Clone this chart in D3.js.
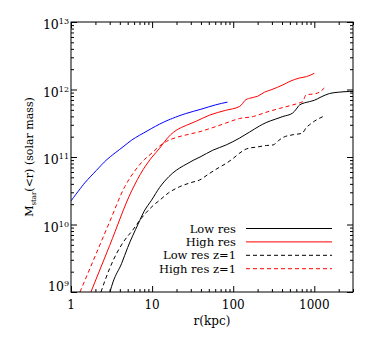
<!DOCTYPE html>
<html>
<head>
<meta charset="utf-8">
<script src="https://cdn.jsdelivr.net/npm/d3@7"></script>
<style>
  body { margin: 0; background: #fff; }
  text { font-family: 'DejaVu Serif', serif; font-size: 12px; fill: #000; }
</style>
</head>
<body>
<svg id="chart" width="374" height="337"></svg>
<script>
// Data: radius (kpc) and enclosed stellar mass (solar masses)
const blueR = [1, 1.3, 1.6, 2.2, 2.7, 3.5, 4.5, 5.6, 7, 8.9, 11, 14, 18, 26, 40, 60, 85];
const blueM = [2.24e10, 3.4e10, 4.6e10, 6.9e10, 8.9e10, 1.15e11, 1.45e11, 1.78e11, 2.1e11, 2.47e11, 2.85e11,
  3.3e11, 3.75e11, 4.4e11, 5.1e11, 5.9e11, 6.5e11];

const lowResR = [3.02, 3.3, 4.2, 5, 6.73, 8, 9.84, 12.4, 14.3, 18, 22, 27, 32, 39, 56, 82, 120, 159, 211, 255,
  330, 410, 540, 600, 656, 870, 1000, 1213, 1535, 2000, 2700, 3000];
const lowResM = [1.0e9, 1.41e9, 2.63e9, 4.57e9, 1.02e10, 1.58e10, 2.29e10, 3.55e10, 4.4e10, 5.8e10, 6.9e10,
  7.94e10, 8.91e10, 1.0e11, 1.26e11, 1.51e11, 1.91e11, 2.34e11, 2.88e11, 3.24e11, 3.63e11, 3.98e11, 4.47e11,
  5.13e11, 5.89e11, 6.61e11, 6.92e11, 7.76e11, 8.71e11, 9.12e11, 9.33e11, 9.33e11];

const highResR = [1.76, 3, 5.6, 7.75, 10, 12.4, 14.3, 17, 20, 26.5, 35, 51, 80, 120, 130, 140, 159, 200, 243,
  300, 410, 500, 656, 800, 1000];
const highResM = [1.0e9, 4.9e9, 3.16e10, 6.5e10, 1.0e11, 1.35e11, 1.7e11, 2.15e11, 2.5e11, 2.95e11, 3.39e11,
  4.17e11, 4.9e11, 5.62e11, 6.17e11, 6.92e11, 7.41e11, 7.94e11, 9.12e11, 1.0e12, 1.17e12, 1.32e12, 1.48e12,
  1.55e12, 1.74e12];

const lowResZ1R = [2.34, 3, 3.65, 4.6, 5.8, 7.1, 8.5, 10.3, 12.4, 16, 21.9, 30, 38.6, 50, 68, 83, 100, 121, 146,
  200, 258, 311, 360, 413, 550, 694, 720, 800, 879, 1000, 1283, 1331];
const lowResZ1M = [1.0e9, 2.24e9, 3.72e9, 5.89e9, 8.32e9, 1.17e10, 1.51e10, 1.91e10, 2.29e10, 2.95e10, 3.63e10,
  4.17e10, 4.57e10, 5.62e10, 7.08e10, 8.13e10, 9.55e10, 1.15e11, 1.32e11, 1.41e11, 1.48e11, 1.51e11, 1.74e11,
  1.95e11, 2.14e11, 2.24e11, 2.29e11, 2.75e11, 3.02e11, 3.39e11, 3.98e11, 4.07e11];

const highResZ1R = [1.29, 2, 3, 4.6, 6, 8, 10, 12, 15, 20, 27, 40, 51, 80, 120, 177, 250, 375, 500, 650, 720,
  790, 1050, 1150, 1330];
const highResZ1M = [1.0e9, 3.47e9, 1.10e10, 3.63e10, 6.03e10, 9.12e10, 1.15e11, 1.41e11, 1.70e11, 1.95e11,
  2.14e11, 2.40e11, 2.63e11, 3.16e11, 3.72e11, 3.98e11, 4.57e11, 5.25e11, 5.75e11, 6.31e11, 6.61e11, 8.32e11,
  8.71e11, 9.12e11, 1.05e12];

const legendLabels = ['Low res', 'High res', 'Low res z=1', 'High res z=1'];
const xTickValues = [1, 10, 100, 1000];
const xTickLabels = ['1', '10', '100', '1000'];
const yTickValues = [1e9, 1e10, 1e11, 1e12, 1e13];
const yTickExponents = ['9', '10', '11', '12', '13'];

const margin = { top: 22, right: 21, bottom: 45, left: 71 };
const width = 374 - margin.left - margin.right;
const height = 337 - margin.top - margin.bottom;

const svg = d3.select('#chart');
const g = svg.append('g')
  .attr('transform', `translate(${margin.left},${margin.top})`);

const x = d3.scaleLog().domain([1, 3000]).range([0, width]);
const y = d3.scaleLog().domain([1e9, 1e13]).range([height, 0]);

const zip = (rs, ms) => rs.map((r, i) => [r, ms[i]]);

const series = [
  { data: zip(blueR, blueM), color: '#0000ff', dash: null, curve: d3.curveNatural },
  { data: zip(lowResR, lowResM), color: '#000000', dash: null, label: legendLabels[0] },
  { data: zip(highResR, highResM), color: '#ff0000', dash: null, label: legendLabels[1] },
  { data: zip(lowResZ1R, lowResZ1M), color: '#000000', dash: '4,3', label: legendLabels[2] },
  { data: zip(highResZ1R, highResZ1M), color: '#ff0000', dash: '4,3', label: legendLabels[3] }
];

g.append('clipPath')
  .attr('id', 'plot-clip')
  .append('rect')
    .attr('width', width)
    .attr('height', height);

const line = d3.line()
  .x(d => x(d[0]))
  .y(d => y(d[1]));

g.append('g')
  .attr('clip-path', 'url(#plot-clip)')
  .selectAll('path')
  .data(series)
  .join('path')
    .attr('d', d => line.curve(d.curve || d3.curveMonotoneX)(d.data))
    .attr('fill', 'none')
    .attr('stroke', d => d.color)
    .attr('stroke-width', 1)
    .attr('stroke-dasharray', d => d.dash);

// Ticks on all four sides, pointing inward
const xMinor = x.ticks().filter(t => !xTickValues.includes(t));
const yMinor = y.ticks().filter(t => !yTickValues.includes(t));

const axes = [
  { fn: d3.axisBottom, scale: x, tr: `translate(0,${height})`, major: xTickValues, minor: xMinor },
  { fn: d3.axisTop, scale: x, tr: 'translate(0,0)', major: xTickValues, minor: xMinor },
  { fn: d3.axisLeft, scale: y, tr: 'translate(0,0)', major: yTickValues, minor: yMinor },
  { fn: d3.axisRight, scale: y, tr: `translate(${width},0)`, major: yTickValues, minor: yMinor }
];

axes.forEach((a) => {
  g.append('g')
    .attr('transform', a.tr)
    .call(a.fn(a.scale).tickValues(a.minor).tickSize(-3).tickFormat(''))
    .call(sel => sel.select('.domain').remove());
  g.append('g')
    .attr('transform', a.tr)
    .call(a.fn(a.scale).tickValues(a.major).tickSize(-6).tickFormat(''))
    .call(sel => sel.select('.domain').remove());
});

g.append('rect')
  .attr('width', width)
  .attr('height', height)
  .attr('fill', 'none')
  .attr('stroke', '#000')
  .attr('stroke-width', 1);

// X tick labels
g.append('g')
  .selectAll('text')
  .data(xTickValues)
  .join('text')
    .attr('x', d => x(d))
    .attr('y', height + 17)
    .attr('text-anchor', 'middle')
    .text((d, i) => xTickLabels[i]);

// Y tick labels with superscript exponent
const yLab = g.append('g')
  .selectAll('text')
  .data(yTickValues)
  .join('text')
    .attr('x', -2)
    .attr('y', d => Math.min(y(d) + 7, height - 1))
    .attr('text-anchor', 'end')
    .style('font-size', '12.5px');
yLab.append('tspan').text('10');
yLab.append('tspan')
  .attr('dy', -5)
  .style('font-size', '8px')
  .text((d, i) => yTickExponents[i]);

// Axis titles
g.append('text')
  .attr('x', width / 2)
  .attr('y', height + 33)
  .attr('text-anchor', 'middle')
  .text('r(kpc)');

const yTitle = g.append('text')
  .attr('transform', `translate(${-38},${height / 2}) rotate(-90)`)
  .attr('text-anchor', 'middle')
  .style('font-size', '11px');
yTitle.append('tspan').text('M');
yTitle.append('tspan').attr('dy', 3).style('font-size', '7px').text('star');
yTitle.append('tspan').attr('dy', -3).text('(<r) (solar mass)');

// Legend
const legendItems = series.filter(s => s.label);
const legend = g.append('g')
  .selectAll('g')
  .data(legendItems)
  .join('g')
    .attr('transform', (d, i) => `translate(0,${206.5 + i * 13.4})`);

legend.append('text')
  .attr('x', 165)
  .attr('y', 4)
  .attr('text-anchor', 'end')
  .style('font-size', '11.5px')
  .text(d => d.label);

legend.append('line')
  .attr('x1', 175)
  .attr('x2', 261)
  .attr('stroke', d => d.color)
  .attr('stroke-width', 1)
  .attr('stroke-dasharray', d => d.dash);
</script>
</body>
</html>
